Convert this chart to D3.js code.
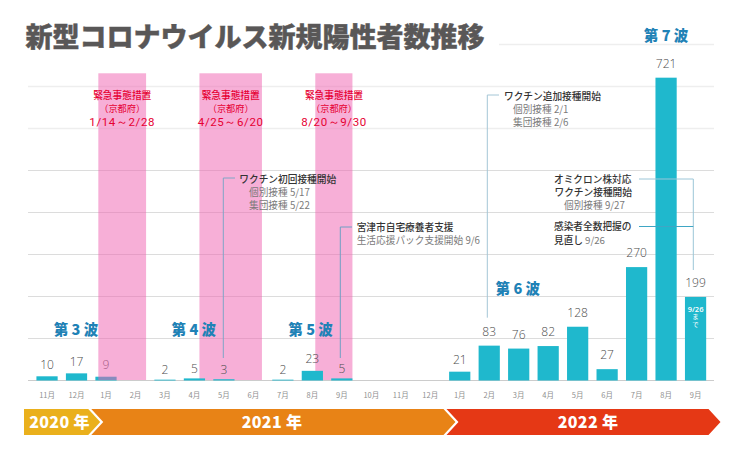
<!DOCTYPE html>
<html>
<head>
<meta charset="utf-8">
<script src="https://cdn.jsdelivr.net/npm/d3@7"></script>
<style>
html, body { margin: 0; padding: 0; background: #fff; }
svg { display: block; }
text { font-family: "Noto Sans CJK JP", sans-serif; }
</style>
</head>
<body>
<svg id="chart" width="740" height="450"></svg>
<script>
var month_labels = ["11月","12月","1月","2月","3月","4月","5月","6月","7月","8月","9月","10月","11月","12月","1月","2月","3月","4月","5月","6月","7月","8月","9月"];
var counts = [10,17,9,null,2,5,3,null,2,23,5,null,null,null,21,83,76,82,128,27,270,721,199];
var y_ticks = [0,100,200,300,400,500,600,700,800];

// emergency periods, in month slots counted from the first slot
var emergency_start = [2.24, 5.67, 9.6];
var emergency_end = [3.86, 7.79, 10.86];
var emergency_dates = ["1/14～2/28", "4/25～6/20", "8/20～9/30"];

// years, in month slots
var year_labels = ["2020 年", "2021 年", "2022 年"];
var year_start = [0, 2, 14];
var year_end = [2, 14, 23];
var year_colors = ["#eab01c", "#e88316", "#e53815"];

var wave_labels = ["第 3 波", "第 4 波", "第 5 波", "第 6 波", "第 7 波"];
var wave_slots = [1.48, 5.48, 9.44, 16.47, 21.5];
var wave_values = [108, 108, 108, 206, 808];

var svg = d3.select("#chart");
var x = d3.scaleBand().domain(d3.range(month_labels.length)).range([32.3, 710.3]).paddingInner(0.28).paddingOuter(0.14);
var y = d3.scaleLinear().domain([0, 800]).range([380.5, 44.5]);
var slot = d3.scaleLinear().domain([0, month_labels.length]).range([32.3, 710.3]);
var mid = i => x(i) + x.bandwidth() / 2;

// title
svg.append("text").attr("x", 25.5).attr("y", 46.5)
    .attr("style", "font-size:27px; font-weight:900; fill:#595757; stroke:#595757; stroke-width:0.4")
    .text("新型コロナウイルス新規陽性者数推移");

// grid
svg.selectAll(".grid").data(y_ticks).join("line").classed("grid", true)
    .attr("x1", d => d == 800 ? 499 : 28).attr("x2", 714)
    .attr("y1", d => y(d)).attr("y2", d => y(d))
    .attr("stroke", d => d >= 600 ? "#eeeeee" : d == 0 ? "#cccccc" : "#dcdcdc")
    .attr("stroke-width", d => d >= 600 ? 1.5 : 1);

// emergency bands, the first one lies over the january bar
function draw_band(i) {
    svg.append("rect")
        .attr("x", slot(emergency_start[i])).attr("width", slot(emergency_end[i]) - slot(emergency_start[i]))
        .attr("y", 73.3).attr("height", 380 - 73.3)
        .attr("fill", "#ef5faf").attr("fill-opacity", 0.5);
}
draw_band(1);
draw_band(2);

// bars
svg.selectAll(".bar").data(counts.map((d, i) => [d, i]).filter(d => d[0] != null)).join("rect").classed("bar", true)
    .attr("x", d => x(d[1])).attr("width", x.bandwidth())
    .attr("y", d => y(d[0])).attr("height", d => y(0) - y(d[0]))
    .attr("fill", "#1fb8cd");

// value labels
svg.selectAll(".value").data(counts.map((d, i) => [d, i]).filter(d => d[0] != null)).join("text").classed("value", true)
    .attr("x", d => mid(d[1]))
    .attr("y", d => y(d[0]) - (d[0] <= 5 ? 5.5 : d[0] < 27 ? 7.5 : 10))
    .attr("text-anchor", "middle")
    .attr("style", "font-family:'Open Sans'; font-size:12px; font-weight:300; fill:#4d4d4d")
    .text(d => d[0]);

draw_band(0);

// month labels
svg.selectAll(".month").data(month_labels).join("text").classed("month", true)
    .attr("x", (d, i) => mid(i)).attr("y", 397.5)
    .attr("text-anchor", "middle")
    .attr("style", "font-size:7.5px; fill:#8f8f8f")
    .text(d => d);

// red emergency captions
emergency_dates.forEach(function (d, i) {
    var cx = (slot(emergency_start[i]) + slot(emergency_end[i])) / 2;
    if (i == 2) cx = 334;
    var g = svg.append("g").attr("text-anchor", "middle").attr("fill", "#e60033").attr("style", "font-size:9.7px; font-weight:500");
    g.append("text").attr("x", cx).attr("y", 99.2).text("緊急事態措置");
    g.append("text").attr("x", cx).attr("y", 112.2).attr("style", "font-size:9.2px; font-weight:400").text("（京都府）");
    g.append("text").attr("x", cx).attr("y", 125.7)
        .attr("style", "font-family:Roboto; font-size:11.5px; font-weight:400; letter-spacing:0.6px").text(d);
});

// wave labels
svg.selectAll(".wave").data(wave_labels).join("text").classed("wave", true)
    .attr("x", (d, i) => slot(wave_slots[i])).attr("y", (d, i) => y(wave_values[i]))
    .attr("text-anchor", "middle")
    .attr("style", "font-size:14.5px; font-weight:900; fill:#1f82b6")
    .text(d => d);

// leader lines
function leader(pts, color, w) {
    svg.append("path").attr("d", d3.line()(pts))
        .attr("fill", "none").attr("stroke", color).attr("stroke-width", w || 1);
}
leader([[235, 178], [223.3, 178], [223.3, 358]], "#7fa6c6");
leader([[352, 227], [340.3, 227], [340.3, 358]], "#6f9fc4");
leader([[499, 95], [487.3, 95], [487.3, 317.7]], "#a4c6d6");
leader([[639, 179], [693.3, 179], [693.3, 270]], "#9cc6d8");
leader([[639, 226.5], [693.3, 226.5]], "#3fa6c4");

// notes
function note(tx, ty, s, bold) {
    svg.append("text").attr("x", tx).attr("y", ty)
        .attr("style", "font-size:9.7px; fill:" + (bold ? "#333333" : "#7a7a7a") + (bold ? "; font-weight:500" : "; font-weight:400"))
        .text(s);
}
note(239.3, 182.8, "ワクチン初回接種開始", true);
note(249, 196, "個別接種 5/17", false);
note(249, 209, "集団接種 5/22", false);
note(356.7, 231, "宮津市自宅療養者支援", true);
note(356.7, 244, "生活応援パック支援開始 9/6", false);
note(504, 99.5, "ワクチン追加接種開始", true);
note(513, 112.5, "個別接種 2/1", false);
note(513, 125.5, "集団接種 2/6", false);
note(554, 182.5, "オミクロン株対応", true);
note(554.5, 195.5, "ワクチン接種開始", true);
note(564, 208.5, "個別接種 9/27", false);
note(554, 230, "感染者全数把握の", true);
note(554, 243.5, "見直し", true);
note(585, 243.5, "9/26", false);

// text in the last bar
var last = month_labels.length - 1;
svg.append("text").attr("x", mid(last)).attr("y", 311.5).attr("text-anchor", "middle")
    .attr("style", "font-family:'Open Sans'; font-size:7.5px; font-weight:600; fill:#fff").text("9/26");
svg.append("text").attr("transform", "translate(" + mid(last) + ",313.5)")
    .attr("style", "font-size:6.5px; fill:#fff; writing-mode:vertical-rl; letter-spacing:1.5px")
    .text("まで");

// year ribbon
var ribbon_top = 409, ribbon_bottom = 435, ribbon_tip = 12;
year_labels.forEach(function (d, i) {
    var x0 = i == 0 ? 24 : slot(year_start[i]) + (i == 1 ? 0 : 1.5);
    var x1 = i == 2 ? 708.5 : slot(year_end[i]) - (i == 0 ? 3 : 1.5);
    var ym = (ribbon_top + ribbon_bottom) / 2;
    var pts = [[x0, ribbon_top], [x1, ribbon_top], [x1 + ribbon_tip, ym], [x1, ribbon_bottom], [x0, ribbon_bottom]];
    if (i > 0) pts.push([x0 + ribbon_tip, ym]);
    svg.append("polygon").attr("points", pts.join(" ")).attr("fill", year_colors[i]);
    var tx = i == 0 ? 59.5 : i == 1 ? 272 : 588;
    svg.append("text").attr("x", tx).attr("y", ym + 5.5).attr("text-anchor", "middle")
        .attr("style", "font-size:16px; font-weight:900; letter-spacing:0.3px; fill:#fff")
        .text(d);
});
</script>
</body>
</html>
